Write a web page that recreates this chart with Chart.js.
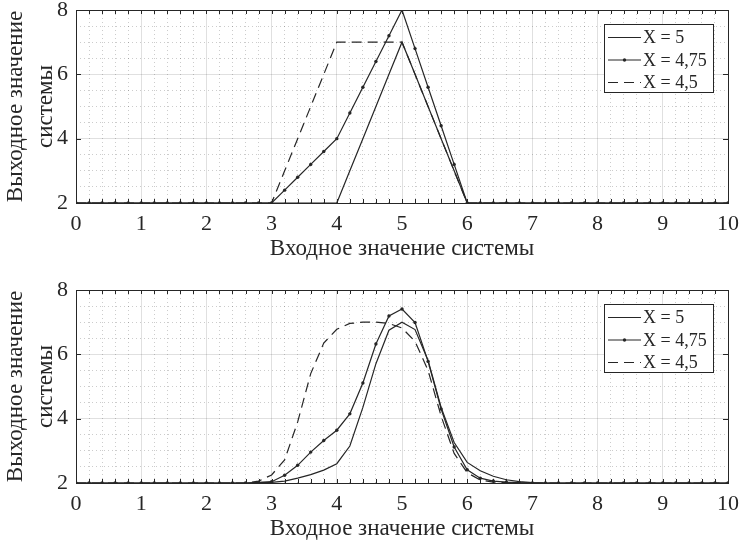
<!DOCTYPE html>
<html lang="ru">
<head>
<meta charset="utf-8">
<title>Выходное значение системы</title>
<script src="https://cdn.jsdelivr.net/npm/chart.js@4.4.1/dist/chart.umd.min.js"></script>
<style>
  html, body { margin: 0; padding: 0; background: #fff; }
  #wrap { position: relative; width: 739px; height: 541px; }
  .panel { position: absolute; left: 0; width: 739px; height: 261px; }
  #panelTop { top: 0; }
  #panelBottom { top: 280px; }
</style>
</head>
<body>
<div id="wrap">
  <div class="panel" id="panelTop"><canvas id="chartTop" width="739" height="261"></canvas></div>
  <div class="panel" id="panelBottom"><canvas id="chartBottom" width="739" height="261"></canvas></div>
</div>
<script>
// Input values (x) shared by all series
const xValues = [
    0, 0.2, 0.4, 0.6, 0.8, 1, 1.2, 1.4, 1.6, 1.8,
    2, 2.2, 2.4, 2.6, 2.8, 3, 3.2, 3.4, 3.6, 3.8,
    4, 4.2, 4.4, 4.6, 4.8, 5, 5.2, 5.4, 5.6, 5.8,
    6, 6.2, 6.4, 6.6, 6.8, 7, 7.2, 7.4, 7.6, 7.8,
    8, 8.2, 8.4, 8.6, 8.8, 9, 9.2, 9.4, 9.6, 9.8,
    10
];
const xTickLabels = [0, 1, 2, 3, 4, 5, 6, 7, 8, 9, 10];
const yTickLabels = [2, 4, 6, 8];
const seriesNames = ['X = 5', 'X = 4,75', 'X = 4,5'];

// Top panel
const topX5 = [
    2, 2, 2, 2, 2, 2, 2, 2, 2, 2,
    2, 2, 2, 2, 2, 2, 2, 2, 2, 2,
    2, 3, 4, 5, 6, 7, 6, 5, 4, 3,
    2, 2, 2, 2, 2, 2, 2, 2, 2, 2,
    2, 2, 2, 2, 2, 2, 2, 2, 2, 2,
    2
];
const topX475 = [
    2, 2, 2, 2, 2, 2, 2, 2, 2, 2,
    2, 2, 2, 2, 2, 2, 2.4, 2.8, 3.2, 3.6,
    4, 4.8, 5.6, 6.4, 7.2, 8, 6.8, 5.6, 4.4, 3.2,
    2, 2, 2, 2, 2, 2, 2, 2, 2, 2,
    2, 2, 2, 2, 2, 2, 2, 2, 2, 2,
    2
];
const topX45 = [
    2, 2, 2, 2, 2, 2, 2, 2, 2, 2,
    2, 2, 2, 2, 2, 2, 3, 4, 5, 6,
    7, 7, 7, 7, 7, 7, 6, 5, 4, 3,
    2, 2, 2, 2, 2, 2, 2, 2, 2, 2,
    2, 2, 2, 2, 2, 2, 2, 2, 2, 2,
    2
];

// Bottom panel
const botX5 = [
    2, 2, 2, 2, 2, 2, 2, 2, 2, 2,
    2, 2, 2, 2, 2.01, 2.02, 2.06, 2.15, 2.26, 2.4,
    2.6, 3.15, 4.35, 5.71, 6.75, 7.0, 6.77, 5.81, 4.35, 3.26,
    2.64, 2.38, 2.21, 2.1, 2.04, 2.01, 2, 2, 2, 2,
    2, 2, 2, 2, 2, 2, 2, 2, 2, 2,
    2
];
const botX475 = [
    2, 2, 2, 2, 2, 2, 2, 2, 2, 2,
    2, 2, 2, 2, 2.02, 2.04, 2.24, 2.55, 2.96, 3.32,
    3.64, 4.15, 5.11, 6.32, 7.19, 7.41, 6.99, 5.78, 4.3, 3.12,
    2.41, 2.15, 2.06, 2.03, 2.01, 2, 2, 2, 2, 2,
    2, 2, 2, 2, 2, 2, 2, 2, 2, 2,
    2
];
const botX45 = [
    2, 2, 2, 2, 2, 2, 2, 2, 2, 2,
    2, 2, 2, 2, 2.06, 2.25, 2.72, 3.9, 5.4, 6.35,
    6.78, 6.96, 7, 7, 6.96, 6.82, 6.4, 5.5, 4.08, 2.92,
    2.32, 2.09, 2.03, 2.01, 2, 2, 2, 2, 2, 2,
    2, 2, 2, 2, 2, 2, 2, 2, 2, 2,
    2
];

const INK = '#262626';
const FONT = "'Liberation Serif', 'Times New Roman', serif";
const MAJOR_GRID = 'rgba(0, 0, 0, 0.12)';
const MINOR_GRID = 'rgba(0, 0, 0, 0.2)';

function isOn(list, v) {
    return list.some(t => Math.abs(t - v) < 1e-6);
}

function makeDatasets(s5, s475, s45) {
    const pts = arr => xValues.map((x, i) => ({ x: x, y: arr[i] }));
    return [
        { label: seriesNames[0], data: pts(s5), borderColor: INK, borderWidth: 1.2, pointRadius: 0 },
        { label: seriesNames[1], data: pts(s475), borderColor: INK, borderWidth: 1.2,
          pointRadius: 1.7, pointBackgroundColor: INK, pointBorderWidth: 0 },
        { label: seriesNames[2], data: pts(s45), borderColor: INK, borderWidth: 1.2,
          borderDash: [10, 6], pointRadius: 0 }
    ];
}

// Box, inward ticks and legend inside the plot area
const framePlugin = {
    id: 'frame',
    afterDatasetsDraw(chart) {
        const { ctx, chartArea: a, scales: { x, y } } = chart;
        const L = Math.round(a.left), T = Math.round(a.top);
        const R = Math.round(a.right), B = Math.round(a.bottom);
        ctx.save();
        ctx.strokeStyle = INK;
        ctx.lineWidth = 1;
        ctx.setLineDash([]);

        ctx.beginPath();
        xValues.forEach(v => {
            const px = Math.round(x.getPixelForValue(v)) + 0.5;
            ctx.moveTo(px, B); ctx.lineTo(px, B - 4);
            ctx.moveTo(px, T); ctx.lineTo(px, T + 4);
        });
        yTickLabels.forEach(v => {
            const py = Math.round(y.getPixelForValue(v)) + 0.5;
            ctx.moveTo(L, py); ctx.lineTo(L + 5, py);
            ctx.moveTo(R, py); ctx.lineTo(R - 5, py);
        });
        ctx.stroke();
        ctx.strokeRect(L + 0.5, T + 0.5, R - L, B - T);

        // legend
        const bx = R - 124, by = T + 14, bw = 109, bh = 68;
        ctx.fillStyle = '#fff';
        ctx.fillRect(bx, by, bw, bh);
        ctx.strokeRect(bx + 0.5, by + 0.5, bw, bh);
        ctx.font = '18px ' + FONT;
        ctx.textBaseline = 'middle';
        ctx.textAlign = 'left';
        chart.data.datasets.forEach((ds, i) => {
            const ry = by + 13.5 + i * 22.5;
            ctx.strokeStyle = ds.borderColor;
            ctx.lineWidth = ds.borderWidth;
            ctx.setLineDash(ds.borderDash || []);
            ctx.beginPath();
            ctx.moveTo(bx + 4, ry);
            ctx.lineTo(bx + 37, ry);
            ctx.stroke();
            ctx.setLineDash([]);
            if (ds.pointRadius > 0) {
                ctx.fillStyle = ds.pointBackgroundColor;
                ctx.beginPath();
                ctx.arc(bx + 20.5, ry, ds.pointRadius, 0, Math.PI * 2);
                ctx.fill();
            }
            ctx.fillStyle = INK;
            ctx.fillText(ds.label, bx + 39, ry + 1);
        });
        ctx.restore();
    }
};

function buildOptions() {
    const tickFont = { family: FONT, size: 22 };
    return {
        responsive: false,
        animation: false,
        devicePixelRatio: 1,
        layout: { padding: { top: 10, right: 11, left: 0, bottom: 0 } },
        plugins: { legend: { display: false }, tooltip: { enabled: false } },
        elements: { line: { tension: 0, fill: false } },
        scales: {
            x: {
                type: 'linear',
                min: 0,
                max: 10,
                afterBuildTicks: scale => { scale.ticks = xValues.map(v => ({ value: v })); },
                afterFit: scale => { scale.height = 58; scale.paddingLeft = 0; scale.paddingRight = 0; },
                ticks: {
                    autoSkip: false,
                    maxRotation: 0,
                    padding: 8,
                    color: INK,
                    font: tickFont,
                    callback: v => isOn(xTickLabels, v) ? String(Math.round(v)) : ''
                },
                grid: {
                    drawTicks: false,
                    lineWidth: 1,
                    color: c => (c.tick && isOn(xTickLabels, c.tick.value)) ? MAJOR_GRID : MINOR_GRID
                },
                border: {
                    display: false,
                    dash: c => (c.tick && !isOn(xTickLabels, c.tick.value)) ? [1, 3] : []
                },
                title: {
                    display: true,
                    text: 'Входное значение системы',
                    color: INK,
                    font: { family: FONT, size: 23, lineHeight: 1 },
                    padding: { top: 0, bottom: 1 }
                }
            },
            y: {
                type: 'linear',
                min: 2,
                max: 8,
                afterFit: scale => { scale.width = 76; scale.paddingTop = 0; scale.paddingBottom = 0; },
                ticks: {
                    stepSize: 0.5,
                    autoSkip: false,
                    padding: 8,
                    color: INK,
                    font: tickFont,
                    callback: v => isOn(yTickLabels, v) ? String(v) : ''
                },
                grid: {
                    drawTicks: false,
                    lineWidth: 1,
                    color: c => (c.tick && isOn(yTickLabels, c.tick.value)) ? MAJOR_GRID : MINOR_GRID
                },
                border: {
                    display: false,
                    dash: c => (c.tick && !isOn(yTickLabels, c.tick.value)) ? [1, 3] : []
                },
                title: {
                    display: true,
                    text: ['Выходное значение', 'системы'],
                    color: INK,
                    font: { family: FONT, size: 23, lineHeight: 30 / 23 },
                    padding: { top: 1, bottom: 0 }
                }
            }
        }
    };
}

function renderChart(id, s5, s475, s45) {
    const el = document.getElementById(id);
    if (!el) return;
    new Chart(el, {
        type: 'line',
        data: { datasets: makeDatasets(s5, s475, s45) },
        options: buildOptions(),
        plugins: [framePlugin]
    });
}

document.addEventListener('DOMContentLoaded', function() {
    renderChart('chartTop', topX5, topX475, topX45);
    renderChart('chartBottom', botX5, botX475, botX45);
});
</script>
</body>
</html>
